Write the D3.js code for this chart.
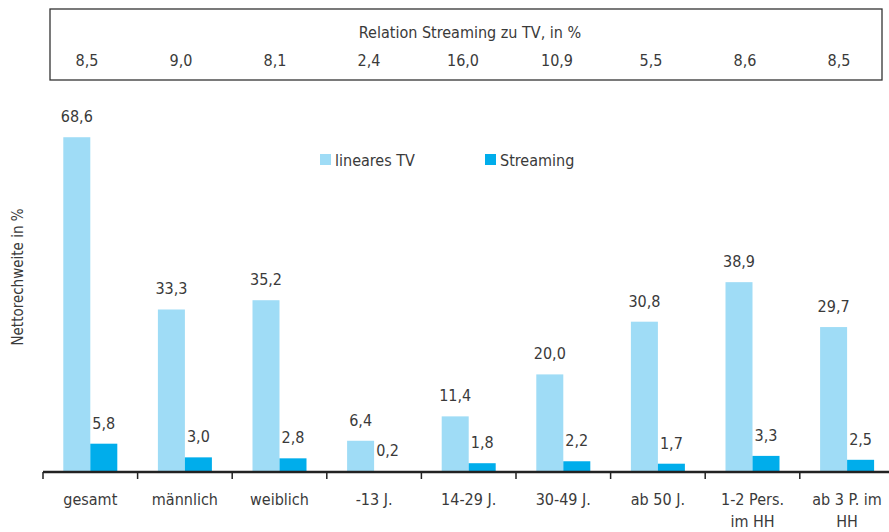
<!DOCTYPE html>
<html>
<head>
<meta charset="utf-8">
<script src="https://cdn.jsdelivr.net/npm/d3@7"></script>
<style>
  body { margin: 0; background: #fff; }
  svg text { font-family: "Liberation Sans Narrow", "DejaVu Sans Condensed", "Roboto", sans-serif; fill: #3a3a3a; }
</style>
</head>
<body>
<div id="chart"></div>
<script>
// data
const categories = ['gesamt', 'männlich', 'weiblich', '-13 J.', '14-29 J.', '30-49 J.', 'ab 50 J.', '1-2 Pers.\nim HH', 'ab 3 P. im\nHH'];
const linearTV = [68.6, 33.3, 35.2, 6.4, 11.4, 20.0, 30.8, 38.9, 29.7];
const streaming = [5.8, 3.0, 2.8, 0.2, 1.8, 2.2, 1.7, 3.3, 2.5];
const relation = [8.5, 9.0, 8.1, 2.4, 16.0, 10.9, 5.5, 8.6, 8.5];
const seriesNames = ['lineares TV', 'Streaming'];
const colors = ['#9fdcf6', '#00adeb'];

const width = 889, height = 532;
const fmt = v => v.toFixed(1).replace('.', ',');

const svg = d3.select('#chart').append('svg')
  .attr('width', width)
  .attr('height', height);

// relation box on top
svg.append('rect')
  .attr('x', 50).attr('y', 9)
  .attr('width', 832).attr('height', 71)
  .attr('fill', 'none')
  .attr('stroke', '#333')
  .attr('stroke-width', 1.3);

svg.append('text')
  .attr('x', 470).attr('y', 38)
  .attr('text-anchor', 'middle')
  .style('font-size', '16px')
  .text('Relation Streaming zu TV, in %');

const xRel = d3.scalePoint().domain(categories).range([87, 839]);
svg.append('g').selectAll('text')
  .data(relation)
  .enter().append('text')
  .attr('x', (d, i) => xRel(categories[i]))
  .attr('y', 66)
  .attr('text-anchor', 'middle')
  .style('font-size', '16px')
  .text(d => fmt(d));

// main chart
const x = d3.scaleBand().domain(categories).range([43, 43 + 9 * 94.6]);
const y = d3.scaleLinear().domain([0, 70]).range([472, 472 - 70 * 4.88]);
const barW = 27;

const groups = svg.append('g').selectAll('g')
  .data(categories)
  .enter().append('g')
  .attr('transform', d => 'translate(' + (x(d) + x.bandwidth() / 2) + ',0)');

[linearTV, streaming].forEach((vals, s) => {
  const off = s === 0 ? -barW : 0;
  groups.append('rect')
    .attr('x', off)
    .attr('y', (d, i) => y(vals[i]))
    .attr('width', barW)
    .attr('height', (d, i) => y(0) - y(vals[i]))
    .attr('fill', colors[s]);
  groups.append('text')
    .attr('x', off + barW / 2)
    .attr('y', (d, i) => y(vals[i]) - 15)
    .attr('text-anchor', 'middle')
    .style('font-size', '16px')
    .text((d, i) => fmt(vals[i]));
});

// x axis
const axis = svg.append('g');
axis.append('line')
  .attr('x1', 43).attr('x2', width)
  .attr('y1', y(0)).attr('y2', y(0))
  .attr('stroke', '#222').attr('stroke-width', 2.5);
axis.selectAll('.tick')
  .data(categories)
  .enter().append('line')
  .attr('x1', d => x(d)).attr('x2', d => x(d))
  .attr('y1', y(0)).attr('y2', y(0) + 7)
  .attr('stroke', '#222').attr('stroke-width', 1.5);

axis.selectAll('.lbl')
  .data(categories)
  .enter().append('text')
  .attr('text-anchor', 'middle')
  .style('font-size', '16px')
  .each(function(d) {
    const t = d3.select(this);
    d.split('\n').forEach((line, k) => {
      t.append('tspan')
        .attr('x', x(d) + x.bandwidth() / 2)
        .attr('y', 505 + k * 22)
        .text(line);
    });
  });

// y axis title
svg.append('text')
  .attr('transform', 'translate(23,277) rotate(-90)')
  .attr('text-anchor', 'middle')
  .style('font-size', '15px')
  .text('Nettorechweite in %');

// legend
const legendX = [320, 485];
const legend = svg.append('g').selectAll('g')
  .data(seriesNames)
  .enter().append('g')
  .attr('transform', (d, i) => 'translate(' + legendX[i] + ',154)');
legend.append('rect')
  .attr('width', 11).attr('height', 11)
  .attr('fill', (d, i) => colors[i]);
legend.append('text')
  .attr('x', 15).attr('y', 12)
  .style('font-size', '16px')
  .text(d => d);
</script>
</body>
</html>
